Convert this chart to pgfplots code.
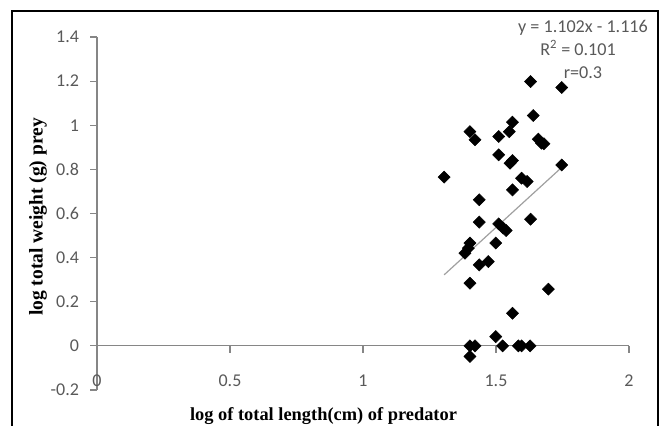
\documentclass[border=0pt]{standalone}
\usepackage{fontspec}
\setmainfont{Liberation Serif}
\newfontfamily\calib{Carlito}
\usepackage{pgfplots}
\pgfplotsset{compat=1.18}
\definecolor{axgray}{HTML}{868686}
\definecolor{lblgray}{HTML}{595959}
\definecolor{trendgray}{HTML}{A0A0A0}
\begin{document}
\begin{tikzpicture}[x=0.75pt,y=0.75pt]
\useasboundingbox (0,0) rectangle (667,425);
\draw[line width=1.4pt,black] (12,-5) -- (12,414) -- (658,414) -- (658,-5);
\begin{axis}[
  at={(72.75pt,26.25pt)}, anchor=south west,
  scale only axis, width=399pt, height=264.75pt,
  xmin=0, xmax=2, ymin=-0.2, ymax=1.4,
  axis x line*=middle, axis y line*=left,
  hide obscured x ticks=false, hide obscured y ticks=false,
  xtick={0,0.5,1,1.5,2}, ytick={-0.2,0,0.2,0.4,0.6,0.8,1,1.2,1.4},
  xticklabels={0,0.5,1,1.5,2},
  yticklabels={-0.2,0,0.2,0.4,0.6,0.8,1,1.2,1.4},
  tick align=outside, major tick length=5pt,
  axis line style={axgray, line width=0.9pt},
  every tick/.style={axgray, line width=0.9pt},
  tick label style={font=\calib\fontsize{13.5}{14}\selectfont, text=lblgray},
  xticklabel style={anchor=center, yshift=-21pt},
  yticklabel style={anchor=east, xshift=-5pt},
  xlabel={log of total length(cm) of predator},
  ylabel={log total weight (g) prey},
  xlabel style={at={(rel axis cs:0.4258,-0.085)}, anchor=base, font=\bfseries\fontsize{13.8}{15}\selectfont},
  ylabel style={at={(rel axis cs:-0.1109,0.49)}, anchor=center, font=\bfseries\fontsize{14.6}{16}\selectfont},
  clip=false,
]
\addplot[only marks, mark=square*, mark size=3.2pt, mark options={rotate=45, fill=black, draw=black}] coordinates {
(1.630,1.198) (1.747,1.171) (1.640,1.044) (1.562,1.014) (1.402,0.971)
(1.421,0.934) (1.510,0.949) (1.550,0.971) (1.659,0.937) (1.671,0.919)
(1.680,0.916) (1.510,0.866) (1.553,0.828) (1.562,0.840) (1.747,0.820)
(1.305,0.765) (1.596,0.760) (1.617,0.745) (1.562,0.707) (1.437,0.662)
(1.437,0.561) (1.630,0.574) (1.510,0.553) (1.527,0.534) (1.538,0.523)
(1.402,0.466) (1.396,0.443) (1.383,0.420) (1.499,0.466) (1.437,0.367)
(1.471,0.382) (1.402,0.284) (1.697,0.257) (1.562,0.148) (1.499,0.042)
(1.402,0) (1.421,0) (1.402,-0.048) (1.525,0) (1.584,0) (1.596,0) (1.628,0)
};
\addplot[trendgray, line width=0.9pt, no marks] coordinates {(1.305,0.322) (1.747,0.809)};
\end{axis}
\begin{scope}[font=\calib\fontsize{13.6}{15}\selectfont, text=lblgray]
\node[anchor=center] at (583,397) {y = 1.102x - 1.116};
\node[anchor=center] at (578,377) {R\textsuperscript{2} = 0.101};
\node[anchor=center] at (583,352) {r=0.3};
\end{scope}
\end{tikzpicture}
\end{document}
